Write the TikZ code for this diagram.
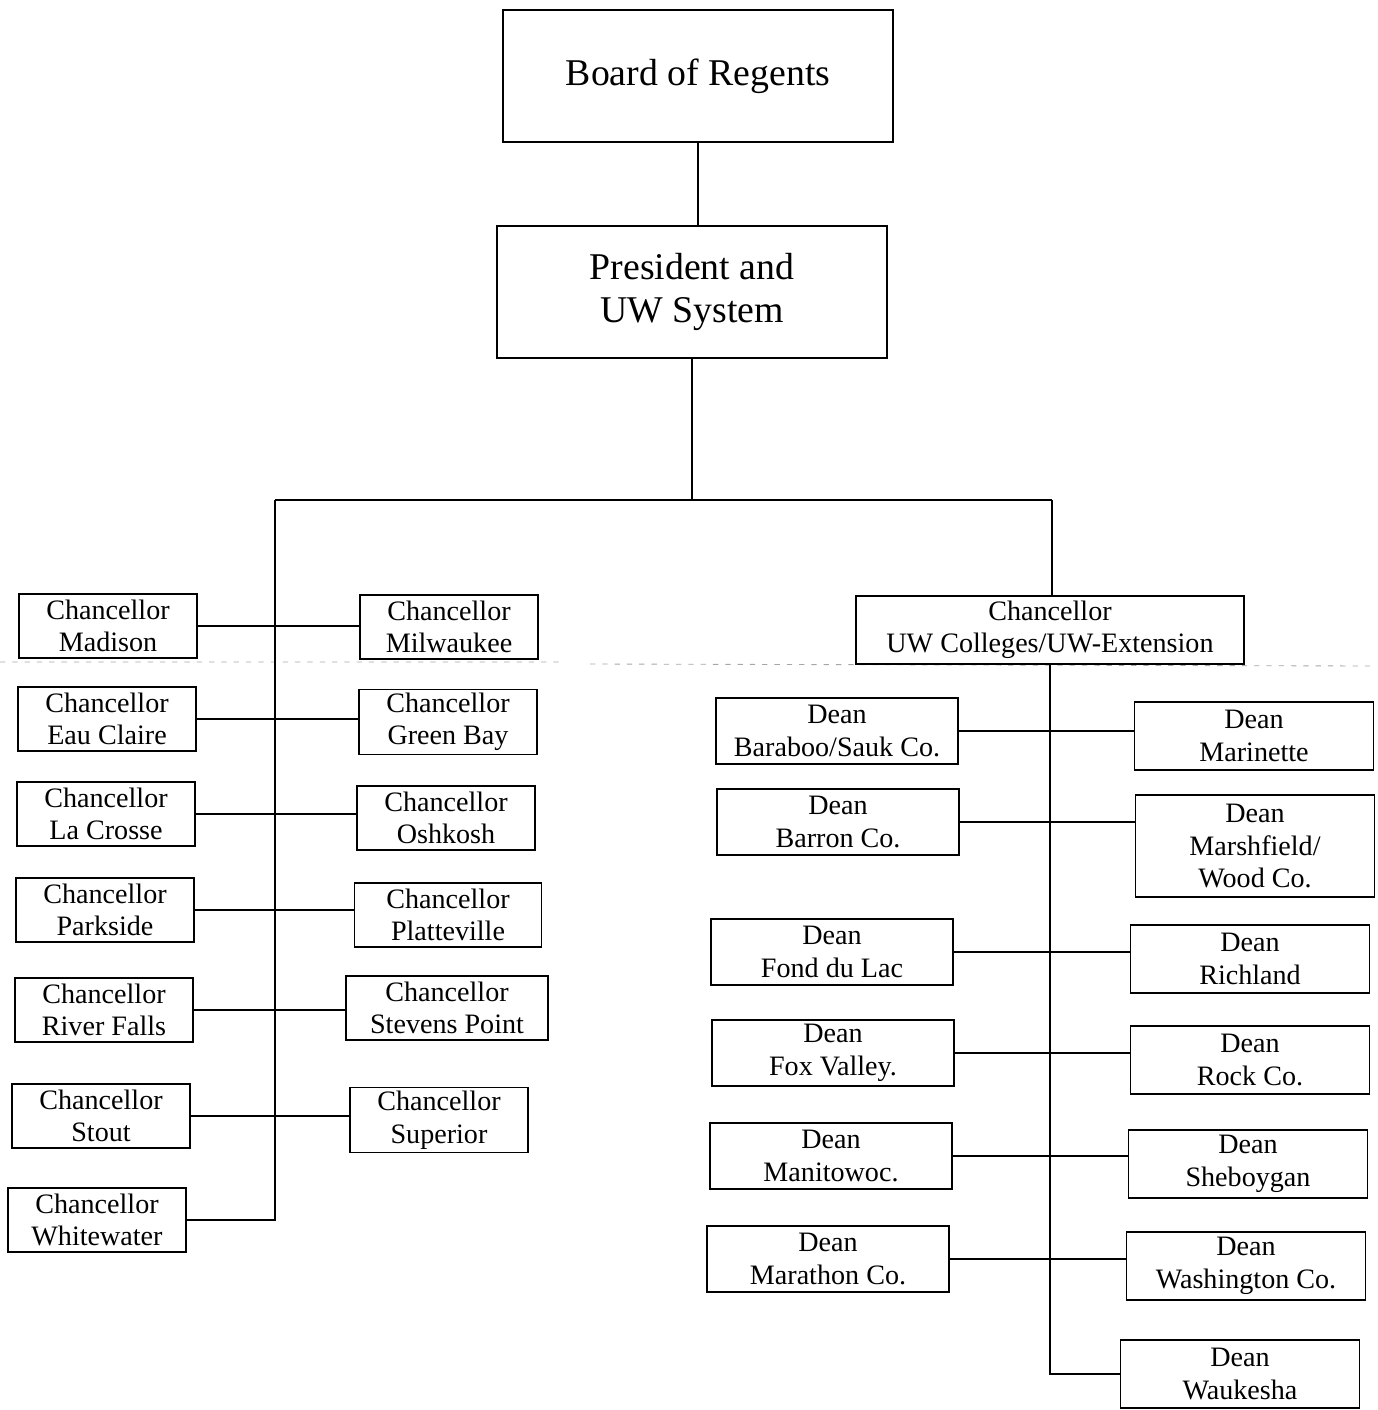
\documentclass[tikz,border=0pt]{standalone}
\usepackage{fontspec}
\setmainfont{Liberation Serif}
\begin{document}
\begin{tikzpicture}[x=0.02cm,y=-0.02cm,line width=1pt,
    topbox/.style={draw,align=center,minimum width=7.8cm,minimum height=2.64cm,font=\fontsize{21.5}{25}\selectfont},
    chanbox/.style={draw,align=center,minimum width=3.56cm,minimum height=1.28cm,inner sep=2pt,font=\fontsize{16}{18.5}\selectfont},
    deanbox/.style={draw,align=center,minimum width=4.84cm,minimum height=1.32cm,inner sep=2pt,font=\fontsize{16}{18.5}\selectfont},
    deanboxr/.style={deanbox,minimum width=4.78cm,minimum height=1.36cm}]
        \useasboundingbox (0,0) rectangle (1378,1410);
        % top of the chart
        \node[topbox] (bor) at (698,76) {Board of Regents};
        \node[topbox] (pres) at (692,292) {President and\\UW System};
        \draw (bor) -- (bor.south |- pres.north);
        \coordinate (jl) at (275,500);
        \coordinate (jr) at (1052,500);
        \draw (pres.south) -- (pres.south |- jl);
        \draw (jl) -- (jr);
        % faint line across the page
        \draw[gray!70,line width=0.5pt,dash pattern=on 3pt off 4pt] (0,662) -- (560,662) (590,664) -- (1370,666);
        % chancellors
        \node[chanbox] (mad) at (108,626) {Chancellor\\Madison};
        \node[chanbox] (mil) at (449,627) {Chancellor\\Milwaukee};
        \node[chanbox] (eau) at (107,719) {Chancellor\\Eau Claire};
        \node[chanbox] (grb) at (448,722) {Chancellor\\Green Bay};
        \node[chanbox] (lax) at (106,814) {Chancellor\\La Crosse};
        \node[chanbox] (osh) at (446,818) {Chancellor\\Oshkosh};
        \node[chanbox] (prk) at (105,910) {Chancellor\\Parkside};
        \node[chanbox,minimum width=3.74cm] (plt) at (448,915) {Chancellor\\Platteville};
        \node[chanbox] (rvf) at (104,1010) {Chancellor\\River Falls};
        \node[chanbox,minimum width=4.04cm] (stp) at (447,1008) {Chancellor\\Stevens Point};
        \node[chanbox] (sto) at (101,1116) {Chancellor\\Stout};
        \node[chanbox] (sup) at (439,1120) {Chancellor\\Superior};
        \node[chanbox] (wtw) at (97,1220) {Chancellor\\Whitewater};
        \draw (mad.east) -- (mad.east -| mil.west);
        \draw (eau.east) -- (eau.east -| grb.west);
        \draw (lax.east) -- (lax.east -| osh.west);
        \draw (prk.east) -- (prk.east -| plt.west);
        \draw (rvf.east) -- (rvf.east -| stp.west);
        \draw (sto.east) -- (sto.east -| sup.west);
        \draw (jl) |- (wtw);
        % colleges and extension
        \node[draw,align=center,minimum width=7.76cm,minimum height=1.36cm,inner sep=2pt,font=\fontsize{16}{18.5}\selectfont] (uwc) at (1050,630) {Chancellor\\UW Colleges/UW-Extension};
        \draw (jr) -- (jr |- uwc.north);
        \node[deanbox] (bar) at (837,731) {Dean\\Baraboo/Sauk Co.};
        \node[deanboxr] (mar) at (1254,736) {Dean\\Marinette};
        \node[deanbox] (brn) at (838,822) {Dean\\Barron Co.};
        \node[deanboxr,minimum height=2.04cm] (msh) at (1255,846) {Dean\\Marshfield/\\Wood Co.};
        \node[deanbox] (fdl) at (832,952) {Dean\\Fond du Lac};
        \node[deanboxr] (ric) at (1250,959) {Dean\\Richland};
        \node[deanbox] (fox) at (833,1053) {Dean\\Fox Valley.};
        \node[deanboxr] (rck) at (1250,1060) {Dean\\Rock Co.};
        \node[deanbox] (mtw) at (831,1156) {Dean\\Manitowoc.};
        \node[deanboxr] (shb) at (1248,1164) {Dean\\Sheboygan};
        \node[deanbox] (mth) at (828,1259) {Dean\\Marathon Co.};
        \node[deanboxr] (wsh) at (1246,1266) {Dean\\Washington Co.};
        \node[deanboxr] (wke) at (1240,1374) {Dean\\Waukesha};
        \draw (bar.east) -- (bar.east -| mar.west);
        \draw (brn.east) -- (brn.east -| msh.west);
        \draw (fdl.east) -- (fdl.east -| ric.west);
        \draw (fox.east) -- (fox.east -| rck.west);
        \draw (mtw.east) -- (mtw.east -| shb.west);
        \draw (mth.east) -- (mth.east -| wsh.west);
        \draw (uwc.south) |- (wke);
\end{tikzpicture}
\end{document}
